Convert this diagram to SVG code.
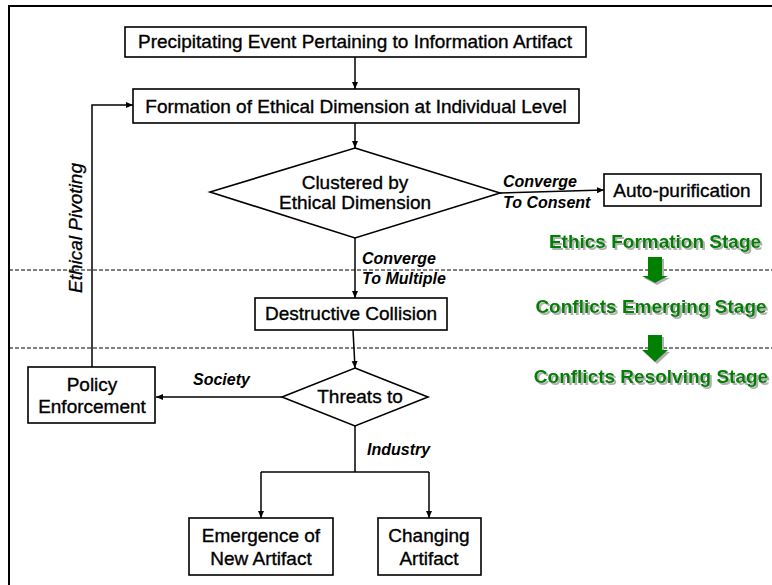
<svg xmlns="http://www.w3.org/2000/svg" width="772" height="585" viewBox="0 0 772 585">
<style>
.box{fill:#fff;stroke:#000;stroke-width:1.6}
.t{font-family:"Liberation Sans",Arial,sans-serif;font-size:19px;fill:#000;stroke:#000;stroke-width:0.35;text-anchor:middle}
.lbl{font-family:"Liberation Sans",Arial,sans-serif;font-size:16px;font-weight:bold;font-style:italic;fill:#000}
.conn{fill:none;stroke:#000;stroke-width:1.5}
.dash{fill:none;stroke:#000;stroke-width:1;stroke-dasharray:4,2}
.stage{font-family:"Liberation Sans",Arial,sans-serif;font-size:19px;font-weight:bold;text-anchor:middle;fill:#008000}
.sg{fill:#008000}
</style>
<defs>
<marker id="ah" markerWidth="8" markerHeight="8" refX="7" refY="4" orient="auto" markerUnits="userSpaceOnUse">
<path d="M0,1 L7,4 L0,7 Z" fill="#000"/>
</marker>
<filter id="shadow" x="-10%" y="-20%" width="120%" height="160%">
<feOffset in="SourceAlpha" dx="2" dy="2" result="off"/>
<feFlood flood-color="#b0b0b0"/>
<feComposite in2="off" operator="in" result="sh"/>
<feMerge><feMergeNode in="sh"/><feMergeNode in="SourceGraphic"/></feMerge>
</filter>
</defs>
<rect width="772" height="585" fill="#fff"/>
<g id="frame">
<path d="M9,585 V6 H772" fill="none" stroke="#000" stroke-width="2"/>
</g>
<g id="dividers">
<line class="dash" x1="9" y1="270" x2="772" y2="270"/>
<line class="dash" x1="9" y1="348" x2="772" y2="348"/>
</g>
<g id="connectors">
<line class="conn" x1="355" y1="57" x2="355" y2="89" marker-end="url(#ah)"/>
<line class="conn" x1="355" y1="123" x2="355" y2="148" marker-end="url(#ah)"/>
<line class="conn" x1="500" y1="193" x2="604" y2="190" marker-end="url(#ah)"/>
<line class="conn" x1="355" y1="238" x2="355" y2="298" marker-end="url(#ah)"/>
<line class="conn" x1="353" y1="330" x2="355" y2="368" marker-end="url(#ah)"/>
<line class="conn" x1="282" y1="397" x2="156" y2="397" marker-end="url(#ah)"/>
<polyline class="conn" points="92,367 92,105 133,105" marker-end="url(#ah)"/>
<line class="conn" x1="355" y1="426" x2="355" y2="472"/>
<polyline class="conn" points="261,472 261,518" marker-end="url(#ah)"/>
<polyline class="conn" points="261,472 429,472"/>
<polyline class="conn" points="429,472 429,518" marker-end="url(#ah)"/>
<text class="lbl" x="503" y="187">Converge</text>
<text class="lbl" x="503" y="208">To Consent</text>
<text class="lbl" x="362" y="264">Converge</text>
<text class="lbl" x="362" y="284">To Multiple</text>
<text class="lbl" x="193" y="385">Society</text>
<text class="lbl" x="367" y="455">Industry</text>
<text x="82" y="228" transform="rotate(-90 82 228)" font-family="'Liberation Sans',Arial,sans-serif" font-size="19" font-style="italic" stroke="#000" stroke-width="0.3" text-anchor="middle">Ethical Pivoting</text>
</g>
<g id="precipitating">
<rect class="box" x="125" y="27" width="461" height="30"/>
<text class="t" x="355" y="48">Precipitating Event Pertaining to Information Artifact</text>
</g>
<g id="formation">
<rect class="box" x="133" y="89" width="446" height="34"/>
<text class="t" x="356" y="113">Formation of Ethical Dimension at Individual Level</text>
</g>
<g id="clustered">
<polygon class="box" points="355,148 500,193 355,238 210,192"/>
<text class="t" x="355" y="189">Clustered by</text>
<text class="t" x="355" y="209">Ethical Dimension</text>
</g>
<g id="autopurification">
<rect class="box" x="604" y="174" width="157" height="32"/>
<text class="t" x="682" y="197">Auto-purification</text>
</g>
<g id="destructive">
<rect class="box" x="255" y="298" width="192" height="32"/>
<text class="t" x="351" y="320">Destructive Collision</text>
</g>
<g id="threats">
<polygon class="box" points="355,368 428,397 355,426 282,397"/>
<text class="t" x="360" y="403">Threats to</text>
</g>
<g id="policy">
<rect class="box" x="28" y="367" width="127" height="56"/>
<text class="t" x="92" y="391">Policy</text>
<text class="t" x="92" y="413">Enforcement</text>
</g>
<g id="emergence">
<rect class="box" x="189" y="518" width="144" height="57"/>
<text class="t" x="261" y="542">Emergence of</text>
<text class="t" x="261" y="565">New Artifact</text>
</g>
<g id="changing">
<rect class="box" x="378" y="518" width="103" height="57"/>
<text class="t" x="429" y="542">Changing</text>
<text class="t" x="429" y="565">Artifact</text>
</g>
<g id="stages" filter="url(#shadow)">
<text class="stage" x="655" y="248">Ethics Formation Stage</text>
<polygon class="sg" points="648,257 662,257 662,276 668,276 655,283 642,276 648,276"/>
<text class="stage" x="651" y="313">Conflicts Emerging Stage</text>
<polygon class="sg" points="648,335 662,335 662,350 668,350 655,362 642,350 648,350"/>
<text class="stage" x="651" y="383">Conflicts Resolving Stage</text>
</g>
</svg>
